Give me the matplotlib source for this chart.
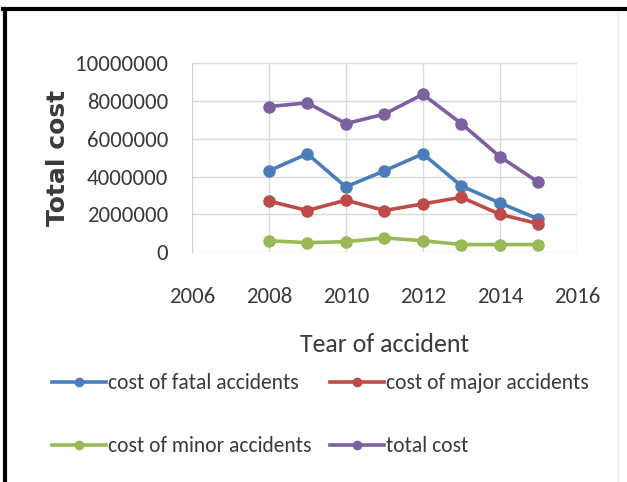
import matplotlib
matplotlib.use("Agg")
import matplotlib.pyplot as plt
from matplotlib.lines import Line2D

years = [2008, 2009, 2010, 2011, 2012, 2013, 2014, 2015]
fatal = [4300000, 5200000, 3450000, 4300000, 5200000, 3500000, 2600000, 1750000]
major = [2700000, 2200000, 2750000, 2200000, 2550000, 2900000, 2000000, 1500000]
minor = [600000, 500000, 550000, 750000, 600000, 400000, 400000, 400000]
total = [7700000, 7900000, 6800000, 7300000, 8350000, 6800000, 5050000, 3700000]

series_names = ["cost of fatal accidents", "cost of major accidents",
                "cost of minor accidents", "total cost"]
colors = ["#4A7EBB", "#BE4B48", "#98B954", "#7D60A0"]

calibri = ["Carlito", "DejaVu Sans"]
txt = "#3A3A3A"

fig = plt.figure(figsize=(6.27, 4.82), dpi=100)
ax = fig.add_axes([0.306, 0.477, 0.614, 0.392])

for vals, c, name in zip([fatal, major, minor, total], colors, series_names):
    ax.plot(years, vals, color=c, lw=2.6, marker="o", ms=8, label=name)

ax.set_xlim(2006, 2016)
ax.set_ylim(0, 10000000)
xt = list(range(2006, 2017, 2))
yt = list(range(0, 10000001, 2000000))
ax.set_xticks(xt)
ax.set_yticks(yt)
ax.set_yticklabels([str(v) for v in yt], family=calibri, fontsize=16.5, color=txt)
ax.set_xticklabels([str(v) for v in xt], family=calibri, fontsize=16.5, color=txt)
ax.tick_params(axis="y", length=0, pad=17)
ax.tick_params(axis="x", length=0, pad=25)
ax.grid(True, color="#D9D9D9", lw=1)
ax.set_axisbelow(True)
for s in ax.spines.values():
    s.set_visible(False)
ax.spines["left"].set_visible(True)
ax.spines["left"].set_color("#D0D0D0")

ax.set_ylabel("Total cost", fontsize=18, fontweight="bold", color=txt, labelpad=4)
ax.set_xlabel("Tear of accident", family=calibri, fontsize=18.6, color=txt, labelpad=19)

# legend filled row by row like the original
order = [0, 2, 1, 3]
handles = [Line2D([], [], color=colors[i], lw=2.6, marker="o", ms=6) for i in order]
labels = [series_names[i] for i in order]
fig.legend(handles, labels, ncol=2, loc="upper left", bbox_to_anchor=(0.083, 0.226),
           frameon=False, prop={"family": calibri, "size": 15.5}, handlelength=2.5,
           handletextpad=0.1, columnspacing=0.85, labelspacing=2.0, labelcolor=txt,
           borderpad=0, borderaxespad=0)

# black frame on top and left of the picture
fig.add_artist(Line2D([0.005, 1.0], [0.982, 0.982], color="black", lw=3, transform=fig.transFigure))
fig.add_artist(Line2D([0.008, 0.008], [0.0, 0.982], color="black", lw=3, transform=fig.transFigure))
fig.add_artist(Line2D([0.986, 0.986], [0.0, 0.975], color="#E8E8E8", lw=1, transform=fig.transFigure))

fig.savefig("out.png", dpi=100)
